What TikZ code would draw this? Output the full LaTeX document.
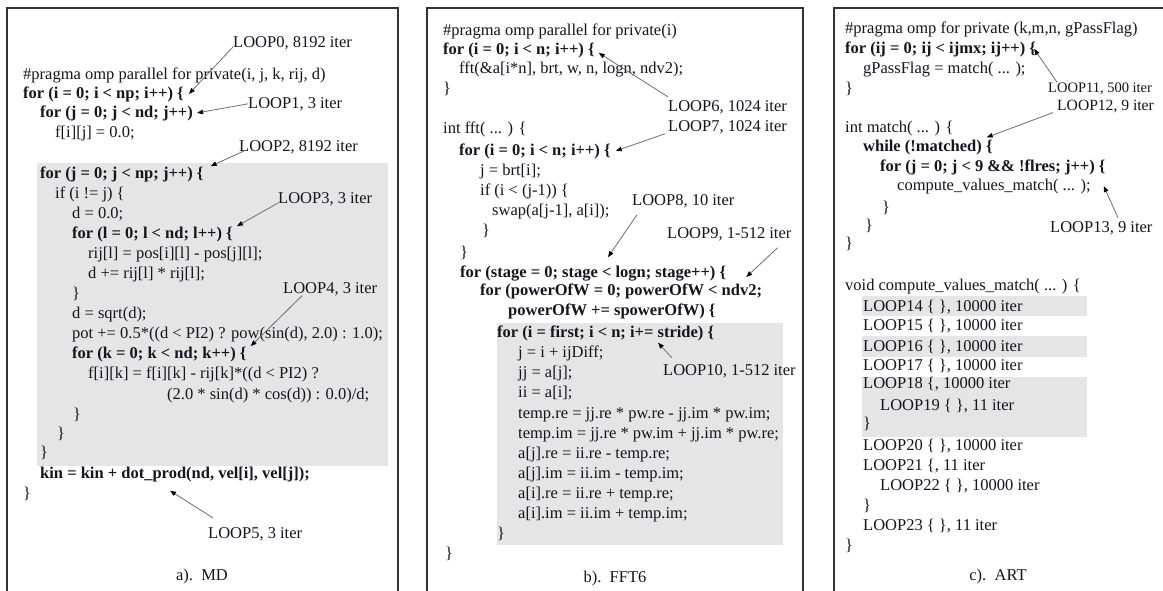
\documentclass[tikz,border=0pt]{standalone}
\usepackage{fontspec}
\setmainfont{Liberation Serif}
\usepackage{xcolor}
\usepackage{tikz}
\usetikzlibrary{arrows.meta,calc}
\definecolor{LSTink}{HTML}{15151F}
\definecolor{LSTframe}{HTML}{333333}
\definecolor{LSTshade}{HTML}{E5E5E5}
\definecolor{LSTarrow}{HTML}{6E6E6E}
\newcommand{\codesize}{\fontsize{16.5}{19.5}\selectfont}
\tikzset{
  codeln/.style={anchor=base west, inner sep=0pt, font=\codesize, text=LSTink},
  codebf/.style={codeln, font=\codesize\bfseries},
  looplbl/.style={anchor=base west, inner sep=0pt, font=\codesize, text=LSTink},
  looparr/.style={-{Triangle[length=6pt, width=4.5pt, color=black]}, draw=LSTarrow, line width=0.8pt},
  panelframe/.style={draw=LSTframe, line width=1.8pt},
  hotspot/.style={fill=LSTshade, draw=none},
  capt/.style={anchor=base, inner sep=0pt, font=\codesize, text=LSTink}
}

\begin{document}
\begin{tikzpicture}[x=1pt, y=-1pt]
\useasboundingbox (0,0) rectangle (1163,590);
\clip (0,0) rectangle (1163,590);
\fill[white] (0,0) rectangle (1163,590);
\draw[panelframe] (7,8) rectangle (398,610);
\draw[panelframe] (427,8) rectangle (803,610);
\draw[panelframe] (834,8) rectangle (1180,610);
\fill[hotspot] (37,163) rectangle (388,466);
\fill[hotspot] (497,323) rectangle (783,545);
\fill[hotspot] (862,296) rectangle (1087,316);
\fill[hotspot] (862,336) rectangle (1087,357);
\fill[hotspot] (862,377) rectangle (1087,437);

\node[codeln] (a1) at (23,79) {\#pragma omp parallel for private(i, j, k, rij, d)};
\node[codebf] (a2) at (23,98) {for (i = 0; i < np; i++) \{};
\node[codebf] (a3) at (40,117) {for (j = 0; j < nd; j++)};
\node[codeln] (a4) at (55,137) {f[i][j] = 0.0;};
\node[codebf] (a5) at (40,178) {for (j = 0; j < np; j++) \{};
\node[codeln] (a6) at (55,198) {if (i != j) \{};
\node[codeln] (a7) at (72,218) {d = 0.0;};
\node[codebf] (a8) at (72,238) {for (l = 0; l < nd; l++) \{};
\node[codeln] (a9) at (88,258) {rij[l] = pos[i][l] - pos[j][l];};
\node[codeln] (a10) at (88,278) {d += rij[l] * rij[l];};
\node[codeln] (a11) at (72,298) {\}};
\node[codeln] (a12) at (72,318) {d = sqrt(d);};
\node[codeln] (a13) at (72,338) {pot += 0.5*((d < PI2) ? pow(sin(d), 2.0) : 1.0);};
\node[codebf] (a14) at (72,358) {for (k = 0; k < nd; k++) \{};
\node[codeln] (a15) at (88,378) {f[i][k] = f[i][k] - rij[k]*((d < PI2) ?};
\node[codeln] (a16) at (167,399) {(2.0 * sin(d) * cos(d)) : 0.0)/d;};
\node[codeln] (a17) at (73,419) {\}};
\node[codeln] (a18) at (57,438) {\}};
\node[codeln] (a19) at (40,457) {\}};
\node[codebf] (a20) at (40,478) {kin = kin + dot\_prod(nd, vel[i], vel[j]);};
\node[codeln] (a21) at (23,498) {\}};
\node[capt] (capa) at (202,580) {a).~~MD};

\node[looplbl] (lp0) at (233,47) {LOOP0, 8192 iter};
\node[looplbl] (lp1) at (248,108) {LOOP1, 3 iter};
\node[looplbl] (lp2) at (239,151) {LOOP2, 8192 iter};
\node[looplbl] (lp3) at (278,203) {LOOP3, 3 iter};
\node[looplbl] (lp4) at (283,293) {LOOP4, 3 iter};
\node[looplbl] (lp5) at (208,538) {LOOP5, 3 iter};
\draw[looparr] (lp0.base west) -- ([xshift=5pt]a2.east);
\draw[looparr] (lp1.west) -- ([xshift=4pt]a3.east);
\draw[looparr] ([xshift=5pt]lp2.base west) -- ([xshift=7pt]a5.north east);
\draw[looparr] (lp3.base west) -- ([xshift=4pt]a8.north east);
\draw[looparr] ([xshift=19pt]lp4.south west) -- ([xshift=4pt]a14.north east);
\draw[looparr] ([shift={(5pt,9pt)}]lp5.north west) -- ([shift={(130pt,-9pt)}]a20.south west);

\node[codeln] (b1) at (443,35) {\#pragma omp parallel for private(i)};
\node[codebf] (b2) at (443,54) {for (i = 0; i < n; i++) \{};
\node[codeln] (b3) at (459,73) {fft(\&a[i*n], brt, w, n, logn, ndv2);};
\node[codeln] (b4) at (443,93) {\}};
\node[codeln] (b5) at (443,133) {int fft( ... ) \{};
\node[codebf] (b6) at (459,155) {for (i = 0; i < n; i++) \{};
\node[codeln] (b7) at (480,175) {j = brt[i];};
\node[codeln] (b8) at (480,195) {if (i < (j-1)) \{};
\node[codeln] (b9) at (492,215) {swap(a[j-1], a[i]);};
\node[codeln] (b10) at (482,235) {\}};
\node[codeln] (b11) at (460,257) {\}};
\node[codebf] (b12) at (460,277) {for (stage = 0; stage < logn; stage++) \{};
\node[codebf] (b13) at (480,295) {for (powerOfW = 0; powerOfW < ndv2;};
\node[codebf] (b14) at (508,315) {powerOfW += spowerOfW) \{};
\node[codebf] (b15) at (497,337) {for (i = first; i < n; i+= stride) \{};
\node[codeln] (b16) at (518,357) {j = i + ijDiff;};
\node[codeln] (b17) at (518,377) {jj = a[j];};
\node[codeln] (b18) at (518,397) {ii = a[i];};
\node[codeln] (b19) at (518,418) {temp.re = jj.re * pw.re - jj.im * pw.im;};
\node[codeln] (b20) at (518,438) {temp.im = jj.re * pw.im + jj.im * pw.re;};
\node[codeln] (b21) at (518,458) {a[j].re = ii.re - temp.re;};
\node[codeln] (b22) at (518,478) {a[j].im = ii.im - temp.im;};
\node[codeln] (b23) at (518,498) {a[i].re = ii.re + temp.re;};
\node[codeln] (b24) at (518,518) {a[i].im = ii.im + temp.im;};
\node[codeln] (b25) at (497,538) {\}};
\node[codeln] (b26) at (445,558) {\}};
\node[capt] (capb) at (615,582) {b).~~FFT6};

\node[looplbl] (lp6) at (668,111) {LOOP6, 1024 iter};
\node[looplbl] (lp7) at (668,131) {LOOP7, 1024 iter};
\node[looplbl] (lp8) at (632,205) {LOOP8, 10 iter};
\node[looplbl] (lp9) at (667,238) {LOOP9, 1-512 iter};
\node[looplbl] (lp10) at (663,375) {LOOP10, 1-512 iter};
\draw[looparr] ([yshift=3pt]lp6.north west) -- ([shift={(4pt,-3pt)}]b2.east);
\draw[looparr] ([xshift=-3pt]lp7.south west) -- ([xshift=5pt]b6.east);
\draw[looparr] ([shift={(5pt,-7pt)}]lp8.south west) -- ([shift={(148pt,8pt)}]b12.north west);
\draw[looparr] ([shift={(-14pt,-7pt)}]lp9.south east) -- ([shift={(20pt,-4pt)}]b12.east);
\draw[looparr] ([shift={(9pt,6pt)}]lp10.north west) -- ([shift={(161pt,-2pt)}]b15.south west);

\node[codeln] (c1) at (845,33) {\#pragma omp for private (k,m,n, gPassFlag)};
\node[codebf] (c2) at (845,53) {for (ij = 0; ij < ijmx; ij++) \{};
\node[codeln] (c3) at (863,73) {gPassFlag = match( ... );};
\node[codeln] (c4) at (845,93) {\}};
\node[codeln] (c5) at (845,132) {int match( ... ) \{};
\node[codebf] (c6) at (863,151) {while (!matched) \{};
\node[codebf] (c7) at (880,171) {for (j = 0; j < 9 \&\& !flres; j++) \{};
\node[codeln] (c8) at (897,190) {compute\_values\_match( ... );};
\node[codeln] (c9) at (882,212) {\}};
\node[codeln] (c10) at (865,230) {\}};
\node[codeln] (c11) at (845,248) {\}};
\node[codeln] (c12) at (845,290) {void compute\_values\_match( ... ) \{};
\node[codeln] (c13) at (863,311) {LOOP14 \{ \}, 10000 iter};
\node[codeln] (c14) at (863,330) {LOOP15 \{ \}, 10000 iter};
\node[codeln] (c15) at (863,351) {LOOP16 \{ \}, 10000 iter};
\node[codeln] (c16) at (863,370) {LOOP17 \{ \}, 10000 iter};
\node[codeln] (c17) at (863,388) {LOOP18 \{, 10000 iter};
\node[codeln] (c18) at (880,410) {LOOP19 \{ \}, 11 iter};
\node[codeln] (c19) at (863,428) {\}};
\node[codeln] (c20) at (863,450) {LOOP20 \{ \}, 10000 iter};
\node[codeln] (c21) at (863,470) {LOOP21 \{, 11 iter};
\node[codeln] (c22) at (880,490) {LOOP22 \{ \}, 10000 iter};
\node[codeln] (c23) at (863,510) {\}};
\node[codeln] (c24) at (863,530) {LOOP23 \{ \}, 11 iter};
\node[codeln] (c25) at (845,550) {\}};
\node[capt] (capc) at (998,580) {c).~~ART};

\node[looplbl, font=\fontsize{14.5}{17}\selectfont] (lp11) at (1048,92) {LOOP11, 500 iter};
\node[looplbl, font=\fontsize{15.6}{18}\selectfont] (lp12) at (1057,110) {LOOP12, 9 iter};
\node[looplbl] (lp13) at (1050,232) {LOOP13, 9 iter};
\draw[looparr] ([xshift=9pt]lp11.north west) -- ([xshift=-2pt]c2.east);
\draw[looparr] ([xshift=-4pt]lp12.south west) -- ([shift={(-6pt,2pt)}]c6.north east);
\draw[looparr] ([shift={(68pt,3pt)}]lp13.north west) -- ([xshift=13pt]c8.east);
\end{tikzpicture}
\end{document}
